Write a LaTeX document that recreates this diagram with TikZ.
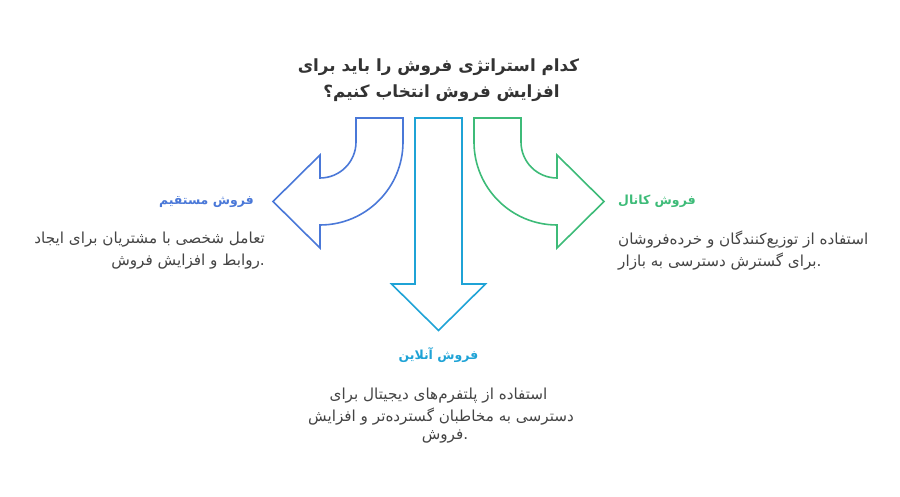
\documentclass[tikz,border=0pt]{standalone}
\usepackage{fontspec}
\newfontfamily\fa[Script=Arabic]{DejaVu Sans}
\TeXXeTstate=1
\definecolor{cblue}{HTML}{4A78D8}
\definecolor{ccyan}{HTML}{1FA3D6}
\definecolor{cgreen}{HTML}{3DBB78}
\definecolor{ctitle}{HTML}{333333}
\definecolor{cbody}{HTML}{444444}
\tikzset{
  arrowshape/.style={line width=1.6pt, line join=miter, fill=white},
  titletxt/.style={font=\fa\bfseries\fontsize{16.8}{22}\selectfont, text=ctitle, inner sep=0pt},
  headtxt/.style={font=\fa\bfseries\fontsize{12.5}{16}\selectfont, inner sep=0pt},
  bodytxt/.style={font=\fa\fontsize{15.2}{20.5}\selectfont, text=cbody, inner sep=0pt},
}
\begin{document}
\begin{tikzpicture}[x=1pt,y=1pt]
\useasboundingbox (0,0) rectangle (900,497);
% title
\node[titletxt] (t1) at (438.5,430.3) {\beginR کدام استراتژی فروش را باید برای\endR};
\node[titletxt] (t2) at (441.5,404) {\beginR افزایش فروش انتخاب کنیم؟\endR};
% blue arrow (left)
\draw[arrowshape, draw=cblue] (356,379) -- (356,355) arc[start angle=0,end angle=-90,radius=36pt]
  -- (320,342) -- (273,295.5) -- (320,249) -- (320,272)
  arc[start angle=-90,end angle=0,radius=83pt] -- (403,379) -- cycle;
% cyan arrow (down)
\draw[arrowshape, draw=ccyan] (415,379) -- (415,213) -- (391.5,213) -- (438.5,166.5)
  -- (485.5,213) -- (462,213) -- (462,379) -- cycle;
% green arrow (right)
\draw[arrowshape, draw=cgreen] (521,379) -- (521,355) arc[start angle=180,end angle=270,radius=36pt]
  -- (557,342) -- (604,295.5) -- (557,249) -- (557,272)
  arc[start angle=270,end angle=180,radius=83pt] -- (474,379) -- cycle;
% left block
\node[headtxt, text=cblue, anchor=east] (lh) at (254,295.3) {\beginR فروش مستقیم\endR};
\node[bodytxt, anchor=east] (lb1) at (265,257) {\beginR تعامل شخصی با مشتریان برای ایجاد\endR};
\node[bodytxt, anchor=east] (lb2) at (265,235.3) {\beginR روابط و افزایش فروش\endR.};
% right block
\node[headtxt, text=cgreen, anchor=west] (rh) at (618,295.3) {\beginR فروش کانال\endR};
\node[bodytxt, anchor=west] (rb1) at (618,257) {\beginR استفاده از توزیع^^^^200cکنندگان و خرده^^^^200cفروشان\endR};
\node[bodytxt, anchor=west] (rb2) at (618,235) {\beginR برای گسترش دسترسی به بازار\endR.};
% bottom block
\node[headtxt, text=ccyan] (bh) at (438.5,142) {\beginR فروش آنلاین\endR};
\node[bodytxt] (bb1) at (438.5,101.3) {\beginR استفاده از پلتفرم^^^^200cهای دیجیتال برای\endR};
\node[bodytxt] (bb2) at (441,80.3) {\beginR دسترسی به مخاطبان گسترده^^^^200cتر و افزایش\endR};
\node[bodytxt] (bb3) at (445,60.3) {\beginR فروش\endR.};
\end{tikzpicture}
\end{document}
